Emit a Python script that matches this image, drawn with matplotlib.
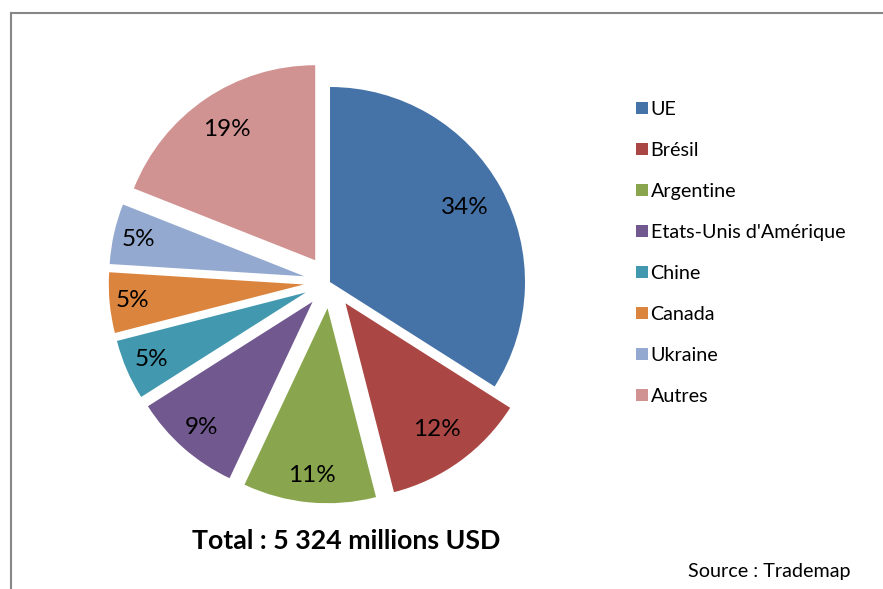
import numpy as np
import matplotlib.pyplot as plt
from matplotlib.lines import Line2D

# data
categories = ["UE", "Brésil", "Argentine", "Etats-Unis d'Amérique",
              "Chine", "Canada", "Ukraine", "Autres"]
shares = [34, 12, 11, 9, 5, 5, 5, 19]
colors = ["#4572A7", "#AA4643", "#89A54E", "#71588F",
          "#4198AF", "#DB843D", "#93A9CF", "#D19392"]
explode = [0, 0.135, 0.135, 0.135, 0.135, 0.135, 0.135, 0.135]
# label distance from (exploded) centre, as fraction of radius
label_dist = [0.79, 0.80, 0.86, 0.86, 0.86, 0.88, 0.87, 0.81]

W, H = 883, 589
cx, cy, R = 330, 282, 195   # pie centre / radius in pixels (from top-left)

plt.rcParams['font.family'] = ['Lato', 'DejaVu Sans']

fig = plt.figure(figsize=(W / 100, H / 100), dpi=100)
fig.set_facecolor("white")

ax = fig.add_axes([0, 0, 1, 1])
wedges, texts, autotexts = ax.pie(
    shares, colors=colors, explode=explode, startangle=90, counterclock=False,
    autopct="%d%%", pctdistance=0.8, radius=1,
    wedgeprops=dict(linewidth=0),
    textprops=dict(fontsize=17.5, color="black"))
for w, t, d in zip(wedges, autotexts, label_dist):
    mid = np.deg2rad((w.theta1 + w.theta2) / 2)
    t.set_position((w.center[0] + d * w.r * np.cos(mid),
                    w.center[1] + d * w.r * np.sin(mid)))
ax.set_xlim(-cx / R, (W - cx) / R)
ax.set_ylim(-(H - cy) / R, cy / R)
ax.set_aspect("equal")
ax.axis("off")

# legend
handles = [Line2D([0], [0], marker="s", linestyle="none", markersize=8.8,
                  markerfacecolor=c, markeredgewidth=0) for c in colors]
fig.legend(handles, categories, loc="upper left",
           bbox_to_anchor=(623 / W, 1 - 91 / H), frameon=False,
           fontsize=14.2, labelspacing=1.22, handletextpad=0.0,
           handlelength=0.9, borderpad=0)

# titles
fig.text(346 / W, 1 - 541 / H, "Total : 5 324 millions USD",
         ha="center", va="center", fontsize=19.3, fontweight="bold")
fig.text(851 / W, 1 - 572 / H, "Source : Trademap",
         ha="right", va="center", fontsize=14.2)

# partial grey frame (top and left edges)
fig.add_artist(Line2D([11 / W, 1], [1 - 13 / H, 1 - 13 / H],
                      color="#878787", linewidth=1.5, transform=fig.transFigure))
fig.add_artist(Line2D([11 / W, 11 / W], [0, 1 - 13 / H],
                      color="#878787", linewidth=1.5, transform=fig.transFigure))

fig.savefig("out.png", dpi=100)
